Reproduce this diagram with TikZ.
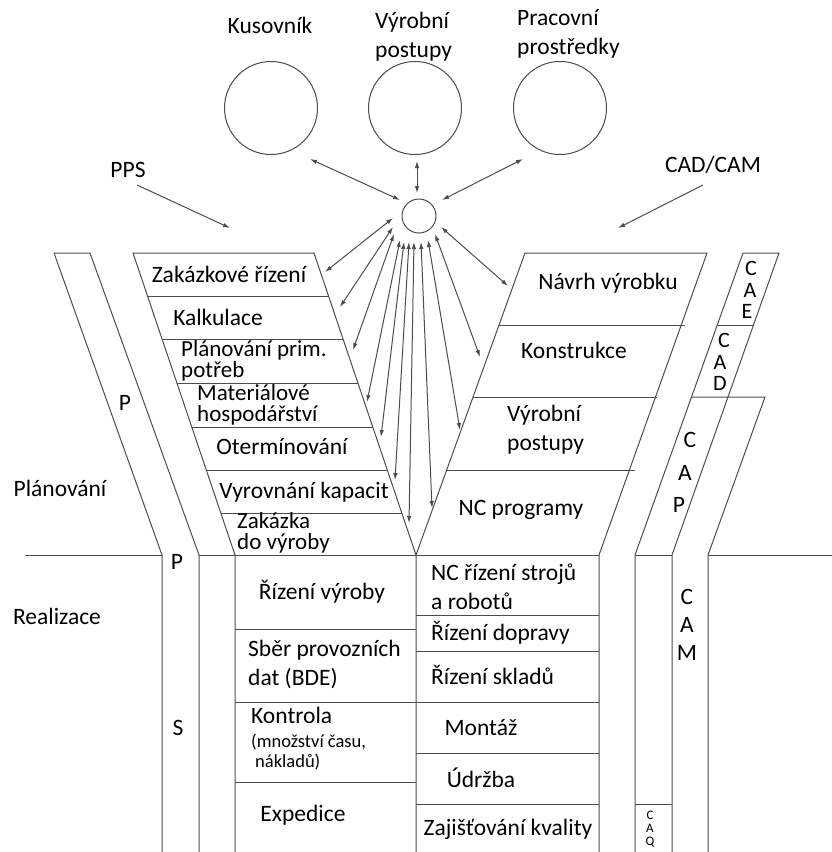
\documentclass[tikz,border=0pt]{standalone}
\usepackage{fontspec}
\setmainfont{Carlito}
\usetikzlibrary{arrows.meta}
\begin{document}
\begin{tikzpicture}[x=1pt,y=-1pt]\tikzset{ring/.style = {shape=circle, draw=black!70, line width=1pt, minimum size=93pt, inner sep=0pt}, lbl/.style = {inner sep=0pt, font=\fontsize{23.5}{29}\selectfont}, wire/.style = {draw=black!70, line width=1pt}, dbl/.style = {wire, {Latex[length=7pt,width=4.5pt]}-{Latex[length=7pt,width=4.5pt]}}, arr/.style = {wire, -{Latex[length=7pt,width=4.5pt]}}}

	\useasboundingbox (0,0) rectangle (832,852);

		\node[ring] (C_1) at (271,108) {};
		\node[ring] (C_2) at (415,108) {};
		\node[ring] (C_3) at (560,108) {};
		\node[ring, minimum size=34pt] (H) at (419,216) {};

		\node[lbl] (T_1) at (270,25) {Kusovník};
		\node[lbl, anchor=west, align=left] (T_2) at (375,37) {Výrobní\\postupy};
		\node[lbl, anchor=west, align=left] (T_3) at (517,34) {Pracovní\\prostředky};
		\node[lbl] (T_4) at (128,170) {PPS};
		\node[lbl] (T_5) at (713,165) {CAD/CAM};

		\coordinate (a_1) at (137,185); \coordinate (b_1) at (230,228);
		\coordinate (a_2) at (703,185); \coordinate (b_2) at (618,228);
		\draw[arr] (a_1) -- (b_1);
		\draw[arr] (a_2) -- (b_2);

		\coordinate (k_1) at (310,159); \coordinate (h_1) at (400,200);
		\coordinate (k_2) at (417,161); \coordinate (h_2) at (417,193);
		\coordinate (k_3) at (523,159); \coordinate (h_3) at (442,200);
		\draw[dbl] (k_1) -- (h_1);
		\draw[dbl] (k_2) -- (h_2);
		\draw[dbl] (k_3) -- (h_3);

		\foreach \sx/\sy/\tx/\ty [count=\i] in {393/218/325/272, 393/227/340/307, 394/234/353/350, 400/240/367/402, 404/242/381/437, 409/242/395/480, 414/242/409/523, 421/242/432/508, 428/240/460/430, 435/234/480/357, 441/227/508/286}{
			\coordinate (s_\i) at (\sx,\sy);
			\coordinate (t_\i) at (\tx,\ty);
			\draw[dbl] (s_\i) -- (t_\i);
		}

		\draw[wire] (54,253) -- (90,253) -- (199,555) -- (199,852);
		\draw[wire] (54,253) -- (162,555) -- (162,852);

		\draw[wire] (235,852) -- (235,555) -- (133,253) -- (314,253) -- (416,555) -- (416,852);
		\foreach \y in {296,339,383,427,470,513}
			\draw[wire] ({133+(\y-253)*0.338},\y) -- ({314+(\y-253)*0.338},\y);

		\draw[wire] (416,555) -- (525,253) -- (707,253) -- (599,555) -- (599,852);
		\draw[wire] (499,325) -- (685,325);
		\draw[wire] (473,397) -- (657,397);
		\draw[wire] (447,470) -- (635,470);

		\draw[wire] (25,555) -- (162,555);
		\draw[wire] (199,555) -- (599,555);
		\draw[wire] (635,555) -- (672,555);
		\draw[wire] (708,555) -- (832,555);

		\draw[wire] (743,253) -- (635,555) -- (635,852);
		\draw[wire] (743,253) -- (779,253) -- (672,555) -- (672,852);
		\draw[wire] (717,325) -- (753,325);
		\draw[wire] (692,397) -- (765,397) -- (708,555) -- (708,852);
		\draw[wire] (635,804) -- (672,804);

		\foreach \y in {629,702,782}
			\draw[wire] (235,\y) -- (416,\y);
		\foreach \y in {615,651,702,753,804}
			\draw[wire] (416,\y) -- (599,\y);

		\node[lbl] (L_1) at (229,274) {Zakázkové řízení};
		\node[lbl] (L_2) at (218,317) {Kalkulace};
		\node[lbl, anchor=west, align=left, font=\fontsize{23}{21}\selectfont] (L_3) at (181,361) {Plánování prim.\\potřeb};
		\node[lbl, anchor=west, align=left, font=\fontsize{23}{21}\selectfont] (L_4) at (197,405) {Materiálové\\hospodářství};
		\node[lbl] (L_5) at (282,447) {Otermínování};
		\node[lbl] (L_6) at (304,492) {Vyrovnání kapacit};
		\node[lbl, anchor=west, align=left, font=\fontsize{23}{21}\selectfont] (L_7) at (237,533) {Zakázka\\do výroby};

		\node[lbl] (R_1) at (608,283) {Návrh výrobku};
		\node[lbl] (R_2) at (574,350) {Konstrukce};
		\node[lbl, anchor=west, align=left] (R_3) at (507,430) {Výrobní\\postupy};
		\node[lbl] (R_4) at (521,510) {NC programy};

		\node[lbl] (B_1) at (322,592) {Řízení výroby};
		\node[lbl, anchor=west, align=left] (B_2) at (248,664) {Sběr provozních\\dat (BDE)};
		\node[lbl, anchor=west] (B_3) at (251,715) {Kontrola};
		\node[lbl, anchor=west, align=left, font=\fontsize{18.5}{20}\selectfont] (B_4) at (251,752) {(množství času,\\\hspace*{4pt}nákladů)};
		\node[lbl] (B_5) at (303,815) {Expedice};

		\node[lbl, anchor=west, align=left] (N_1) at (431,587) {NC řízení strojů\\a robotů};
		\node[lbl, anchor=west] (N_2) at (431,633) {Řízení dopravy};
		\node[lbl, anchor=west] (N_3) at (431,675) {Řízení skladů};
		\node[lbl] (N_4) at (481,728) {Montáž};
		\node[lbl] (N_5) at (481,778) {Údržba};
		\node[lbl] (N_6) at (508,829) {Zajišťování kvality};

		\node[lbl] (S_1) at (60,488) {Plánování};
		\node[lbl] (S_2) at (57,616) {Realizace};
		\node[lbl] (P_1) at (125,403) {P};
		\node[lbl] (P_2) at (177,562) {P};
		\node[lbl] (P_3) at (178,728) {S};

		\foreach \c/\x/\y [count=\i] in {C/751/268, A/750/290, E/747/311, C/724/340, A/720/362, D/720/383}
			\node[lbl, font=\fontsize{22}{22}\selectfont] (X_\i) at (\x,\y) {\c};
		\foreach \c/\x/\y [count=\i] in {C/690/440, A/685/473, P/679/505, C/687/597, A/687/625, M/687/653}
			\node[lbl] (Y_\i) at (\x,\y) {\c};
		\foreach \c/\y [count=\i] in {C/815, A/828, Q/842}
			\node[lbl, font=\fontsize{13}{13}\selectfont] (Q_\i) at (650,\y) {\c};
	\end{tikzpicture}
\end{document}
